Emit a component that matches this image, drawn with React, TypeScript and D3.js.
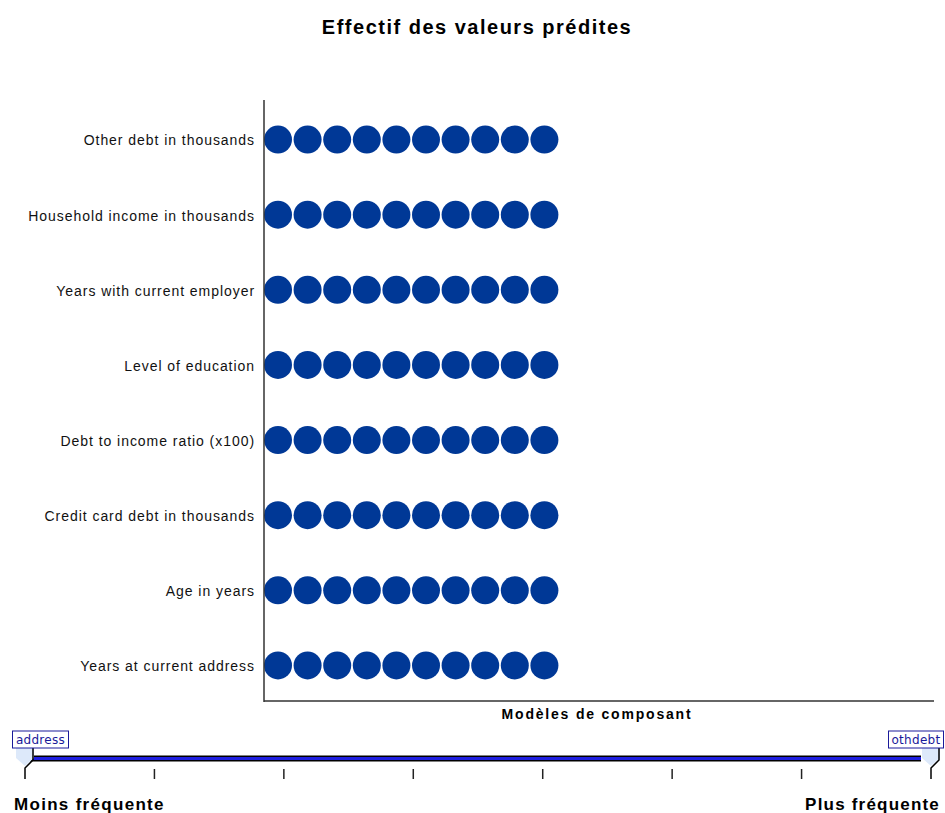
import { useEffect, useRef } from "react";
import * as d3 from "d3";

const title = "Effectif des valeurs prédites";
const xTitle = "Modèles de composant";
const categories = [
  "Other debt in thousands",
  "Household income in thousands",
  "Years with current employer",
  "Level of education",
  "Debt to income ratio (x100)",
  "Credit card debt in thousands",
  "Age in years",
  "Years at current address",
];
const counts = [10, 10, 10, 10, 10, 10, 10, 10];
const sliderTicks = [0, 1, 2, 3, 4, 5, 6, 7];
const sliderStart = "address";
const sliderEnd = "othdebt";
const lowLabel = "Moins fréquente";
const highLabel = "Plus fréquente";

function App() {
  const ref = useRef<SVGSVGElement>(null);

  useEffect(() => {
    const svg = d3.select(ref.current);
    svg.selectAll("*").remove();
    const font = "'Liberation Sans', Arial, sans-serif";
    svg.style("font-family", font);

    const left = 264;
    const right = 934;
    const top = 100;
    const bottom = 701;

    const y = d3.scaleBand().domain(categories).range([102, 703]).paddingInner(0).paddingOuter(0);
    const x = d3.scaleLinear().domain([0, 1]).range([278, 307.6]);
    const r = 14;

    svg.append("text")
      .attr("x", 477).attr("y", 34)
      .attr("text-anchor", "middle")
      .style("font-size", "20px").style("font-weight", "bold")
      .style("letter-spacing", "1.5px")
      .text(title);

    // points
    categories.forEach((c, i) => {
      const cy = (y(c) ?? 0) + y.bandwidth() / 2;
      svg.append("g")
        .selectAll("circle")
        .data(d3.range(counts[i]))
        .join("circle")
        .attr("cx", d => x(d))
        .attr("cy", cy)
        .attr("r", r)
        .attr("fill", "#003896");
      svg.append("text")
        .attr("x", 255).attr("y", cy + 1)
        .attr("dy", "0.35em")
        .attr("text-anchor", "end")
        .style("font-size", "14px")
        .style("letter-spacing", "0.95px")
        .attr("fill", "#111")
        .text(c);
    });

    // axes
    svg.append("line").attr("x1", left).attr("x2", left).attr("y1", top).attr("y2", bottom + 1)
      .attr("stroke", "#333").attr("stroke-width", 1.5);
    svg.append("line").attr("x1", left).attr("x2", right).attr("y1", bottom).attr("y2", bottom)
      .attr("stroke", "#333").attr("stroke-width", 1.5);

    svg.append("text")
      .attr("x", 597).attr("y", 719)
      .attr("text-anchor", "middle")
      .style("font-size", "14px").style("font-weight", "bold")
      .style("letter-spacing", "1.8px")
      .text(xTitle);

    // slider
    const sx = d3.scaleLinear().domain([0, sliderTicks.length - 1]).range([25, 931]);
    const ly = 758.5;
    svg.append("rect").attr("x", 30).attr("y", ly - 3).attr("width", 891).attr("height", 6).attr("fill", "#000");
    svg.append("rect").attr("x", 30).attr("y", ly - 1.5).attr("width", 891).attr("height", 3).attr("fill", "#1f1fe0");

    svg.append("g")
      .selectAll("line")
      .data(sliderTicks.slice(1, -1))
      .join("line")
      .attr("x1", d => sx(d)).attr("x2", d => sx(d))
      .attr("y1", 769).attr("y2", 779)
      .attr("stroke", "#222").attr("stroke-width", 1.5);

    const handle = (cx: number, label: string, bx: number, bw: number, dir: number) => {
      svg.append("path")
        .attr("d", `M${cx - 9},748 L${cx + 9},748 L${cx + 9},758 L${cx},766 L${cx - 9},758 Z`)
        .attr("fill", "#dde9fa");
      svg.append("path")
        .attr("d", `M${cx},779 L${cx},768 L${cx + dir * 8},760 L${cx + dir * 8},748`)
        .attr("fill", "none").attr("stroke", "#000").attr("stroke-width", 1.5);
      svg.append("rect")
        .attr("x", bx).attr("y", 731).attr("width", bw).attr("height", 17)
        .attr("fill", "#fff").attr("stroke", "#1a1a9a").attr("stroke-width", 1);
      svg.append("text")
        .attr("x", bx + bw / 2).attr("y", 744)
        .attr("text-anchor", "middle")
        .attr("fill", "#1a1a9a")
        .style("font-family", "'DejaVu Sans', sans-serif")
        .style("font-size", "12px")
        .style("letter-spacing", "0.3px")
        .text(label);
    };
    handle(sx(0), sliderStart, 12.5, 56, 1);
    handle(sx(sliderTicks.length - 1), sliderEnd, 888.5, 55, 1);

    svg.append("text")
      .attr("x", 14).attr("y", 810)
      .style("font-size", "17px").style("font-weight", "bold")
      .style("letter-spacing", "1.3px")
      .text(lowLabel);
    svg.append("text")
      .attr("x", 940).attr("y", 810)
      .attr("text-anchor", "end")
      .style("font-size", "17px").style("font-weight", "bold")
      .style("letter-spacing", "1.2px")
      .text(highLabel);
  }, []);

  return <svg ref={ref} width={945} height={813} style={{ position: "absolute", left: 0, top: 0 }} />;
}

export default App;
